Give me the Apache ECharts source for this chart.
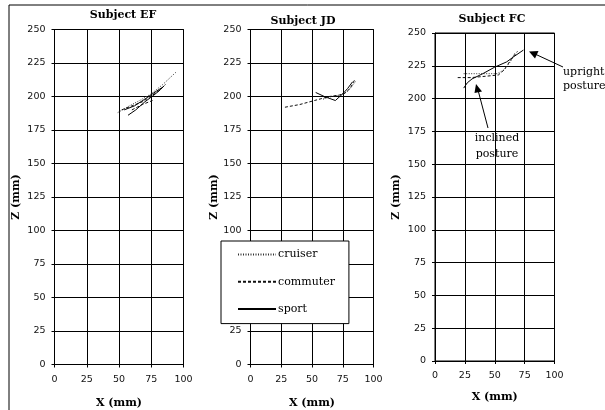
<!DOCTYPE html>
<html><head><meta charset="utf-8">
<script src="https://cdn.jsdelivr.net/npm/echarts@6/dist/echarts.min.js"></script>
<style>html,body{margin:0;padding:0;background:#fff}#c{width:605px;height:410px}</style>
</head><body><div id="c"></div>
<script>
// Tick labels
var xTicks = [0, 25, 50, 75, 100];
var yTicks = [0, 25, 50, 75, 100, 125, 150, 175, 200, 225, 250];
var titles = ['Subject EF', 'Subject JD', 'Subject FC'];
var seriesNames = ['cruiser', 'commuter', 'sport'];

// Subject EF (x mm, z mm)
var efCruiser = [[49,188],[58,193],[66,197],[75,202],[84,209],[94,218]];
var efCommuter = [[52,190],[60,193],[68,196],[76,201],[82,205],[86,209]];
var efCommuterB = [[60,190],[68,194],[76,197]];
var efSport = [[57,186],[63,190],[70,196],[77,201],[82,205],[85,208]];
var efSportB = [[54,190],[62,193],[70,198],[79,204],[84,207]];

// Subject JD
var jdCruiser = [[59,198],[66,200],[72,201],[78,203],[82,207],[86,212]];
var jdCommuter = [[28,192],[40,194],[52,197],[64,200],[72,201],[76,202],[81,206],[85,213]];
var jdSport = [[53,203],[60,200],[69,197],[75,202],[79,206],[83,211]];

// Subject FC
var fcCruiser = [[24,219],[35,219],[45,219],[52,219],[58,222],[63,228],[67,235]];
var fcCommuter = [[19,216],[30,216],[42,217],[53,218],[58,222],[63,229],[69,236]];
var fcSport = [[24,208],[27,212],[31,215],[40,219],[50,224],[60,228],[66,232],[74,237]];

var lineStyles = {
  cruiser: {type: [1, 1.5], width: 1, color: '#333'},
  commuter: {type: [3, 2], width: 1, color: '#111'},
  sport: {type: 'solid', width: 1, color: '#000'}
};

var grids = [
  {left: 54.5, top: 29.5, width: 129, height: 335},
  {left: 250.5, top: 29.5, width: 123, height: 335},
  {left: 435, top: 33, width: 119.5, height: 328}
];
var xNameGaps = [33, 33, 31];
var yNameGaps = [33, 30, 33];

var tickFont = {fontFamily: 'DejaVu Sans', fontSize: 9.5, color: '#111'};
var nameFont = {fontFamily: 'DejaVu Serif', fontWeight: 'bold', fontSize: 11, color: '#000'};

var xAxes = [], yAxes = [], gridOpts = [], titleOpts = [];
for (var i = 0; i < 3; i++) {
  gridOpts.push(Object.assign({show: true, borderColor: '#000', borderWidth: 1, backgroundColor: '#fff',
    containLabel: false, outerBoundsMode: 'none'}, grids[i]));
  xAxes.push({
    type: 'value', gridIndex: i, min: xTicks[0], max: xTicks[xTicks.length - 1], interval: 25,
    name: 'X (mm)', nameLocation: 'middle', nameGap: xNameGaps[i], nameTextStyle: nameFont,
    axisLine: {show: true, onZero: false, lineStyle: {color: '#000', width: 1}},
    axisTick: {show: true, length: 3, lineStyle: {color: '#000'}},
    axisLabel: Object.assign({margin: 10}, tickFont),
    splitLine: {show: true, lineStyle: {color: '#000', width: 1}}
  });
  yAxes.push({
    type: 'value', gridIndex: i, min: yTicks[0], max: yTicks[yTicks.length - 1], interval: 25,
    name: 'Z (mm)', nameLocation: 'middle', nameGap: yNameGaps[i], nameTextStyle: nameFont,
    axisLine: {show: true, onZero: false, lineStyle: {color: '#000', width: 1}},
    axisTick: {show: true, length: 3, lineStyle: {color: '#000'}},
    axisLabel: Object.assign({margin: 9}, tickFont),
    splitLine: {show: true, lineStyle: {color: '#000', width: 1}}
  });
}
titleOpts = [
  {text: titles[0], left: 123, top: 10, textAlign: 'center'},
  {text: titles[1], left: 303, top: 16, textAlign: 'center'},
  {text: titles[2], left: 492, top: 14, textAlign: 'center'}
].map(function (t) {
  t.textStyle = {fontFamily: 'DejaVu Serif', fontWeight: 'bold', fontSize: 11, color: '#000'};
  t.padding = 0;
  return t;
});

function ser(name, data, idx) {
  return {
    type: 'line', name: name, data: data, xAxisIndex: idx, yAxisIndex: idx,
    symbol: 'none', showSymbol: false, smooth: false, animation: false,
    lineStyle: lineStyles[name], itemStyle: {color: lineStyles[name].color}, z: 5
  };
}

var series = [
  ser('cruiser', efCruiser, 0), ser('commuter', efCommuter, 0), ser('commuter', efCommuterB, 0),
  ser('sport', efSport, 0), ser('sport', efSportB, 0),
  ser('cruiser', jdCruiser, 1), ser('commuter', jdCommuter, 1), ser('sport', jdSport, 1),
  ser('cruiser', fcCruiser, 2), ser('commuter', fcCommuter, 2), ser('sport', fcSport, 2)
];

var chart = echarts.init(document.getElementById('c'), null, {renderer: 'canvas'});
chart.setOption({
  animation: false,
  backgroundColor: '#fff',
  title: titleOpts,
  grid: gridOpts,
  xAxis: xAxes,
  yAxis: yAxes,
  legend: {
    data: seriesNames,
    orient: 'vertical', left: 221, top: 241,
    itemWidth: 38, itemHeight: 14, itemGap: 16,
    padding: [8, 14, 9, 16],
    backgroundColor: '#fff', borderColor: '#000', borderWidth: 1,
    itemStyle: {opacity: 0},
    textStyle: {fontFamily: 'DejaVu Serif', fontSize: 11, color: '#000', padding: [0, 0, 0, -3]},
    selectedMode: false
  },
  graphic: [
    {type: 'rect', shape: {x: 9, y: 5, width: 620, height: 420}, style: {fill: 'none', stroke: '#000', lineWidth: 1}, z: 100, silent: true},
    {type: 'text', x: 563, y: 72, style: {text: 'upright', font: '11px "DejaVu Serif"', fill: '#000', textVerticalAlign: 'middle'}, z: 100},
    {type: 'text', x: 563, y: 86, style: {text: 'posture', font: '11px "DejaVu Serif"', fill: '#000', textVerticalAlign: 'middle'}, z: 100},
    {type: 'text', x: 497, y: 138, style: {text: 'inclined', font: '11px "DejaVu Serif"', fill: '#000', textAlign: 'center', textVerticalAlign: 'middle'}, z: 100},
    {type: 'text', x: 497, y: 154, style: {text: 'posture', font: '11px "DejaVu Serif"', fill: '#000', textAlign: 'center', textVerticalAlign: 'middle'}, z: 100},
    {type: 'line', shape: {x1: 563, y1: 67, x2: 535, y2: 54}, style: {stroke: '#000', lineWidth: 1}, z: 100},
    {type: 'polygon', shape: {points: [[529, 51.5], [538.5, 51], [535, 58.5]]}, style: {fill: '#000'}, z: 100},
    {type: 'line', shape: {x1: 488, y1: 128, x2: 478, y2: 90}, style: {stroke: '#000', lineWidth: 1}, z: 100},
    {type: 'polygon', shape: {points: [[476, 84], [482, 91.5], [474.5, 93]]}, style: {fill: '#000'}, z: 100}
  ],
  series: series
});
</script></body></html>
